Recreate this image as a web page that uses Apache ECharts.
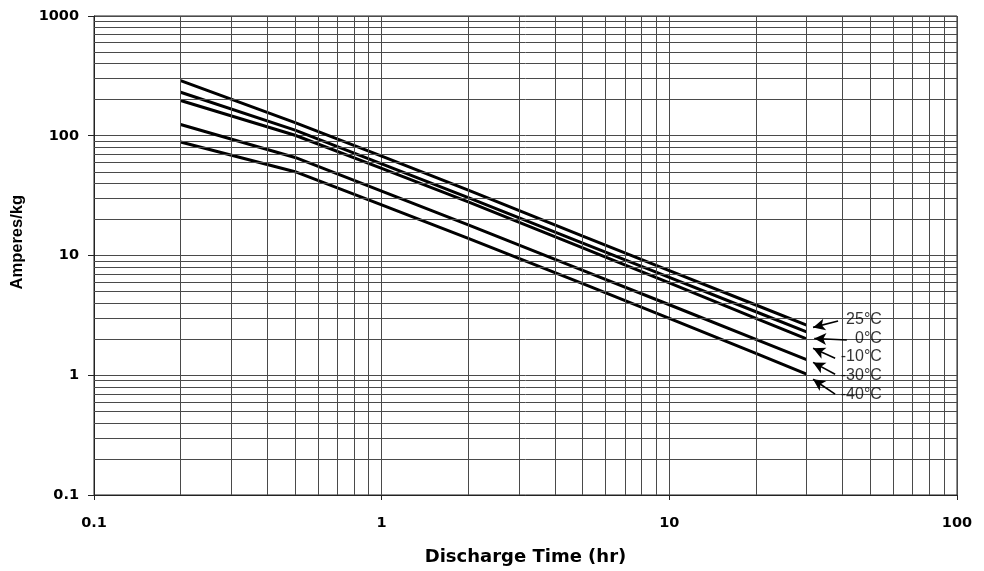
<!DOCTYPE html>
<html>
<head>
<meta charset="utf-8">
<script src="https://cdn.jsdelivr.net/npm/echarts@6/dist/echarts.min.js"></script>
<style>
html,body{margin:0;padding:0;background:#fff;}
#chart{width:984px;height:571px;}
</style>
</head>
<body>
<div id="chart"></div>
<script>
// Discharge time points (hr)
var hours = [0.2, 0.5, 1, 2, 5, 10, 20, 30];
// Amperes/kg per temperature
var t25  = [289, 128.5, 67.5, 35.1, 14.5, 7.48, 3.86, 2.62];
var t0   = [231, 111.5, 58.3, 30.4, 12.7, 6.57, 3.39, 2.30];
var tm10 = [197, 101, 53.5, 28.0, 11.6, 5.90, 2.99, 2.01];
var tm30 = [124, 65.9, 34.5, 18.0, 7.52, 3.88, 1.99, 1.35];
var tm40 = [88.6, 50.1, 26.5, 13.9, 5.82, 2.98, 1.52, 1.02];
var seriesNames = ['25°C', '0°C', '-10°C', '-30°C', '-40°C'];
// Tick labels
var xTicks = [0.1, 1, 10, 100];
var yTicks = [0.1, 1, 10, 100, 1000];
// Minor grid values
var xMinor = [0.2,0.3,0.4,0.5,0.6,0.7,0.8,0.9,2,3,4,5,6,7,8,9,20,30,40,50,60,70,80,90];
var yMinor = [0.2,0.3,0.4,0.5,0.6,0.7,0.8,0.9,2,3,4,5,6,7,8,9,20,30,40,50,60,70,80,90,200,300,400,500,600,700,800,900];
// Annotation (label anchor and arrow) positions in data units
var labelX = 54.8;
var labelY = [2.89, 2.03, 1.44, 0.987, 0.695];
var arrowStartX = [38.6, 41.4, 37.7, 37.7, 37.7];
var arrowStartY = [2.835, 1.97, 1.386, 1.02, 0.695];
var arrowTipX = [31.6, 31.9, 31.6, 31.6, 31.6];
var arrowTipY = [2.51, 2.03, 1.68, 1.28, 0.926];

var allValues = [t25, t0, tm10, tm30, tm40];

function pairs(arr){ return hours.map(function(h,i){ return [h, arr[i]]; }); }
function fmt(v){
  var s = String(+v.toPrecision(6));
  return s;
}

var gridColor = '#4a4a4a';
var gridLines = [];
xMinor.forEach(function(v){ gridLines.push({xAxis: v}); });
yMinor.forEach(function(v){ gridLines.push({yAxis: v}); });

var series = [];
series.push({
  type: 'line', name: 'grid', data: [[0.1, 0.1]], symbol: 'none', showSymbol: false,
  lineStyle: {opacity: 0}, silent: true, z: 1,
  markLine: {
    silent: true, symbol: ['none','none'], label: {show: false},
    lineStyle: {color: gridColor, width: 1, type: 'solid'},
    emphasis: {disabled: true},
    animation: false,
    data: gridLines
  }
});
allValues.forEach(function(arr, i){
  series.push({
    type: 'line', name: seriesNames[i], data: pairs(arr),
    symbol: 'none', showSymbol: false, smooth: false,
    lineStyle: {color: '#000', width: 3}, itemStyle: {color: '#000'},
    z: 3, animation: false
  });
});
// arrows
var arrowData = seriesNames.map(function(n, i){
  return [{coord: [arrowStartX[i], arrowStartY[i]]}, {coord: [arrowTipX[i], arrowTipY[i]]}];
});
series.push({
  type: 'line', name: 'arrows', data: [], symbol: 'none', z: 4,
  markLine: {
    silent: true, symbol: ['none', 'arrow'], symbolSize: [9, 12],
    label: {show: false}, animation: false,
    lineStyle: {color: '#000', width: 1.6, type: 'solid'},
    emphasis: {disabled: true},
    data: arrowData
  }
});
// labels
series.push({
  type: 'scatter', name: 'labels', z: 5, symbolSize: 0, silent: true, animation: false,
  data: seriesNames.map(function(n, i){ return {name: n, value: [labelX, labelY[i]]}; }),
  label: {
    show: true, position: 'left', distance: 0, formatter: '{b}',
    fontFamily: 'Liberation Sans, Arial, sans-serif', fontSize: 16, color: '#000'
  }
});

var chart = echarts.init(document.getElementById('chart'), null, {renderer: 'canvas'});
chart.setOption({
  backgroundColor: '#fff',
  animation: false,
  grid: {left: 94, right: 27, top: 16, bottom: 75, containLabel: false,
         show: true, borderColor: '#222', borderWidth: 1, backgroundColor: 'transparent'},
  xAxis: {
    type: 'log', logBase: 10, min: 0.1, max: 100,
    name: 'Discharge Time (hr)', nameLocation: 'middle', nameGap: 62,
    nameTextStyle: {fontFamily: 'DejaVu Sans', fontWeight: 'bold', fontSize: 18, color: '#000', verticalAlign: 'middle'},
    axisLine: {show: true, lineStyle: {color: '#222', width: 1}},
    axisTick: {show: true, length: 5, inside: false, lineStyle: {color: '#222'}},
    axisLabel: {show: true, margin: 21, fontFamily: 'DejaVu Sans', fontWeight: 'bold', fontSize: 14.5, color: '#000',
      formatter: function(v){ return fmt(v); }},
    splitLine: {show: true, lineStyle: {color: gridColor, width: 1}},
    minorTick: {show: false}, minorSplitLine: {show: false}
  },
  yAxis: {
    type: 'log', logBase: 10, min: 0.1, max: 1000,
    axisLine: {show: true, lineStyle: {color: '#222', width: 1}},
    axisTick: {show: true, length: 6, inside: false, lineStyle: {color: '#222'}},
    axisLabel: {show: true, margin: 15, fontFamily: 'DejaVu Sans', fontWeight: 'bold', fontSize: 14.5, color: '#000',
      formatter: function(v){ return fmt(v); }},
    splitLine: {show: true, lineStyle: {color: gridColor, width: 1}},
    minorTick: {show: false}, minorSplitLine: {show: false}
  },
  graphic: [{
    type: 'text', left: 9, top: 195, rotation: Math.PI / 2,
    style: {text: 'Amperes/kg', fontFamily: 'Liberation Sans, Arial, sans-serif', fontWeight: 'bold', fontSize: 16.5, fill: '#000'}
  }],
  series: series
});
</script>
</body>
</html>
